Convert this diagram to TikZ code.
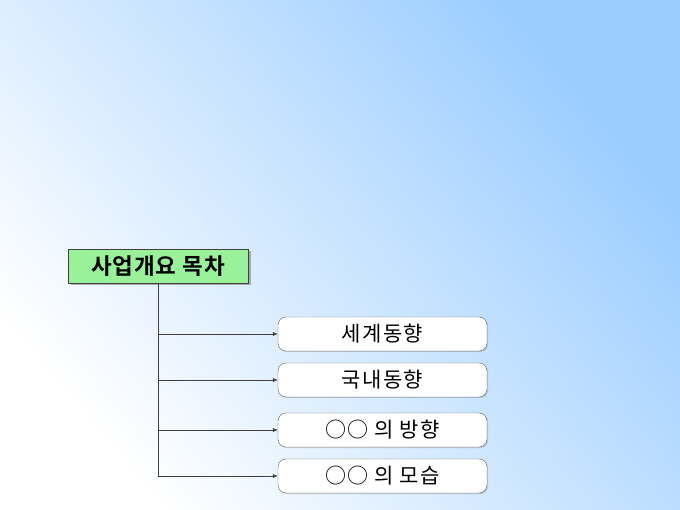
\documentclass[tikz,border=0pt]{standalone}
\usepackage{fontspec}
\setmainfont{Noto Sans CJK KR}[LetterSpace=6]
\newfontfamily\titlefont{Noto Sans CJK KR Bold}[LetterSpace=4]
\usepackage{tikz}
\usetikzlibrary{
    arrows.meta,
    shadows
}
\definecolor{skyblue}{HTML}{99CCFF}
\definecolor{titlegreen}{HTML}{99F299}
\definecolor{linegray}{HTML}{404040}

\begin{document}
\begin{tikzpicture} [x=1pt,y=-1pt,
    titlebox/.style={draw=linegray, fill=titlegreen, minimum width=180pt, minimum height=34pt,
        drop shadow={shadow xshift=2.5pt, shadow yshift=-2.5pt, opacity=.6, fill=gray},
        font=\titlefont\fontsize{22.5}{24}\selectfont},
    itembox/.style={draw=gray!80!black, fill=white, rounded corners=8pt, minimum width=209pt,
        minimum height=34pt, font=\fontsize{21}{24}\selectfont,
        drop shadow={shadow xshift=1pt, shadow yshift=-1pt, opacity=.35}},
    branch/.style={draw=linegray, -{Latex[length=5pt,width=4pt]}}]
    \useasboundingbox (0,0) rectangle (680,510);
    \shade[shading=axis, top color=skyblue, bottom color=white, shading angle=-50]
        (0,0) rectangle (680,510);

    \node[titlebox] (title) at (158,266) {사업개요 목차};

    \node[itembox] (world)     at (382.5,334) {세계동향};
    \node[itembox] (domestic)  at (382.5,380) {국내동향};
    \node[itembox] (direction) at (382.5,430) {○○ 의 방향};
    \node[itembox] (figure)    at (382.5,476) {○○ 의 모습};

    \coordinate (trunk) at (title.south);
    \draw[linegray] (trunk) -- (trunk |- figure.west);
    \draw[branch] (trunk |- world.west)     -- (world.west);
    \draw[branch] (trunk |- domestic.west)  -- (domestic.west);
    \draw[branch] (trunk |- direction.west) -- (direction.west);
    \draw[branch] (trunk |- figure.west)    -- (figure.west);
\end{tikzpicture}
\end{document}
